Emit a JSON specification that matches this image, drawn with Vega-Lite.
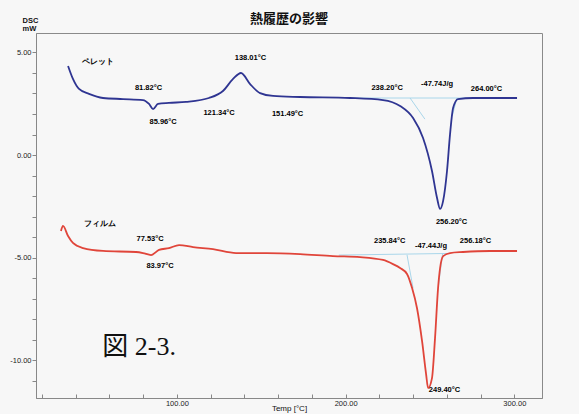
{
  "$schema": "https://vega.github.io/schema/vega-lite/v6.json",
  "width": 506,
  "height": 365,
  "autosize": "none",
  "padding": {"left": 36, "top": 33, "right": 37, "bottom": 16},
  "background": "#f7f7f7",
  "title": {"text": "熱履歴の影響", "font": "Noto Sans CJK JP", "fontSize": 13, "fontWeight": "bold", "color": "#111111", "anchor": "middle", "offset": -10},
  "config": {
    "view": {"stroke": "#8a8a8a", "strokeWidth": 1},
    "axis": {"grid": false, "domainColor": "#888888", "tickColor": "#888888", "labelColor": "#222222", "titleColor": "#111111", "labelFont": "Liberation Sans", "titleFont": "Liberation Sans", "labelFontSize": 7.5, "titleFontSize": 8, "titleFontWeight": "normal"}
  },
  "datasets": {
    "curves": [
      {"sample": "ペレット", "T": 35.5, "mW": 4.34},
      {"sample": "ペレット", "T": 38.4, "mW": 3.71},
      {"sample": "ペレット", "T": 42.0, "mW": 3.22},
      {"sample": "ペレット", "T": 47.9, "mW": 2.98},
      {"sample": "ペレット", "T": 56.2, "mW": 2.78},
      {"sample": "ペレット", "T": 68.1, "mW": 2.73},
      {"sample": "ペレット", "T": 79.9, "mW": 2.68},
      {"sample": "ペレット", "T": 83.5, "mW": 2.49},
      {"sample": "ペレット", "T": 85.9, "mW": 2.24},
      {"sample": "ペレット", "T": 88.8, "mW": 2.49},
      {"sample": "ペレット", "T": 95.3, "mW": 2.54},
      {"sample": "ペレット", "T": 105.4, "mW": 2.59},
      {"sample": "ペレット", "T": 119.0, "mW": 2.78},
      {"sample": "ペレット", "T": 127.3, "mW": 3.12},
      {"sample": "ペレット", "T": 133.3, "mW": 3.71},
      {"sample": "ペレット", "T": 138.0, "mW": 4.0},
      {"sample": "ペレット", "T": 143.4, "mW": 3.46},
      {"sample": "ペレット", "T": 149.3, "mW": 3.02},
      {"sample": "ペレット", "T": 157.0, "mW": 2.88},
      {"sample": "ペレット", "T": 173.0, "mW": 2.83},
      {"sample": "ペレット", "T": 202.6, "mW": 2.78},
      {"sample": "ペレット", "T": 222.2, "mW": 2.68},
      {"sample": "ペレット", "T": 232.3, "mW": 2.39},
      {"sample": "ペレット", "T": 240.0, "mW": 1.80},
      {"sample": "ペレット", "T": 245.9, "mW": 0.83},
      {"sample": "ペレット", "T": 251.2, "mW": -0.78},
      {"sample": "ペレット", "T": 254.2, "mW": -2.10},
      {"sample": "ペレット", "T": 256.0, "mW": -2.63},
      {"sample": "ペレット", "T": 257.8, "mW": -2.24},
      {"sample": "ペレット", "T": 260.1, "mW": -0.78},
      {"sample": "ペレット", "T": 261.9, "mW": 1.02},
      {"sample": "ペレット", "T": 263.7, "mW": 2.29},
      {"sample": "ペレット", "T": 266.6, "mW": 2.73},
      {"sample": "ペレット", "T": 275.5, "mW": 2.78},
      {"sample": "ペレット", "T": 301.6, "mW": 2.78},
      {"sample": "フィルム", "T": 31.3, "mW": -3.71},
      {"sample": "フィルム", "T": 32.5, "mW": -3.46},
      {"sample": "フィルム", "T": 35.5, "mW": -3.95},
      {"sample": "フィルム", "T": 38.4, "mW": -4.29},
      {"sample": "フィルム", "T": 44.4, "mW": -4.54},
      {"sample": "フィルム", "T": 56.2, "mW": -4.68},
      {"sample": "フィルム", "T": 75.8, "mW": -4.73},
      {"sample": "フィルム", "T": 79.9, "mW": -4.78},
      {"sample": "フィルム", "T": 84.7, "mW": -4.88},
      {"sample": "フィルム", "T": 89.4, "mW": -4.63},
      {"sample": "フィルム", "T": 95.3, "mW": -4.54},
      {"sample": "フィルム", "T": 101.3, "mW": -4.39},
      {"sample": "フィルム", "T": 109.6, "mW": -4.49},
      {"sample": "フィルム", "T": 121.4, "mW": -4.59},
      {"sample": "フィルム", "T": 135.1, "mW": -4.78},
      {"sample": "フィルム", "T": 153.4, "mW": -4.78},
      {"sample": "フィルム", "T": 173.0, "mW": -4.83},
      {"sample": "フィルム", "T": 192.5, "mW": -4.93},
      {"sample": "フィルム", "T": 208.6, "mW": -4.98},
      {"sample": "フィルム", "T": 222.2, "mW": -5.12},
      {"sample": "フィルム", "T": 228.1, "mW": -5.32},
      {"sample": "フィルム", "T": 232.3, "mW": -5.51},
      {"sample": "フィルム", "T": 236.4, "mW": -5.80},
      {"sample": "フィルム", "T": 239.4, "mW": -6.49},
      {"sample": "フィルム", "T": 242.3, "mW": -7.46},
      {"sample": "フィルム", "T": 245.3, "mW": -9.07},
      {"sample": "フィルム", "T": 247.7, "mW": -10.68},
      {"sample": "フィルム", "T": 248.9, "mW": -11.37},
      {"sample": "フィルム", "T": 251.2, "mW": -10.88},
      {"sample": "フィルム", "T": 253.0, "mW": -8.93},
      {"sample": "フィルム", "T": 254.8, "mW": -6.49},
      {"sample": "フィルム", "T": 256.0, "mW": -5.51},
      {"sample": "フィルム", "T": 257.8, "mW": -4.93},
      {"sample": "フィルム", "T": 261.9, "mW": -4.78},
      {"sample": "フィルム", "T": 269.6, "mW": -4.73},
      {"sample": "フィルム", "T": 285.6, "mW": -4.68},
      {"sample": "フィルム", "T": 301.6, "mW": -4.68}
    ],
    "base": [
      {"seg": "b1", "T": 202.6, "mW": 2.78},
      {"seg": "b1", "T": 275.5, "mW": 2.78},
      {"seg": "b2", "T": 238.2, "mW": 2.78},
      {"seg": "b2", "T": 247.0, "mW": 1.75},
      {"seg": "b3", "T": 266.0, "mW": 2.78},
      {"seg": "b3", "T": 263.2, "mW": 1.9},
      {"seg": "r1", "T": 196.0, "mW": -4.88},
      {"seg": "r1", "T": 262.0, "mW": -4.8},
      {"seg": "r2", "T": 236.4, "mW": -4.87},
      {"seg": "r2", "T": 240.0, "mW": -6.5},
      {"seg": "r3", "T": 257.5, "mW": -4.8},
      {"seg": "r3", "T": 255.0, "mW": -6.4}
    ],
    "labels": [
      {"T": 53.3, "mW": 4.54, "label": "ペレット"},
      {"T": 83.2, "mW": 3.27, "label": "81.82°C"},
      {"T": 91.8, "mW": 1.61, "label": "85.96°C"},
      {"T": 125.0, "mW": 2.05, "label": "121.34°C"},
      {"T": 143.6, "mW": 4.73, "label": "138.01°C"},
      {"T": 165.6, "mW": 2.0, "label": "151.49°C"},
      {"T": 224.6, "mW": 3.27, "label": "238.20°C"},
      {"T": 254.2, "mW": 3.46, "label": "-47.74J/g"},
      {"T": 283.5, "mW": 3.22, "label": "264.00°C"},
      {"T": 262.8, "mW": -3.27, "label": "256.20°C"},
      {"T": 54.7, "mW": -3.37, "label": "フィルム"},
      {"T": 84.1, "mW": -4.10, "label": "77.53°C"},
      {"T": 90.0, "mW": -5.41, "label": "83.97°C"},
      {"T": 226.1, "mW": -4.20, "label": "235.84°C"},
      {"T": 250.6, "mW": -4.44, "label": "-47.44J/g"},
      {"T": 277.0, "mW": -4.20, "label": "256.18°C"},
      {"T": 258.6, "mW": -11.46, "label": "249.40°C"}
    ]
  },
  "encoding": {
    "x": {
      "field": "T", "type": "quantitative",
      "scale": {"domain": [16.5, 316.4], "nice": false, "zero": false},
      "axis": {
        "values": [20, 40, 60, 80, 100, 120, 140, 160, 180, 200, 220, 240, 260, 280, 300],
        "labelExpr": "datum.value % 100 === 0 ? format(datum.value, '.2f') : ''",
        "tickSize": -4, "labelPadding": 5, "labelOverlap": false,
        "title": "Temp [°C]", "titlePadding": -2
      }
    },
    "y": {
      "field": "mW", "type": "quantitative",
      "scale": {"domain": [-11.85, 5.95], "nice": false, "zero": false},
      "axis": {
        "values": [-11, -10, -9, -8, -7, -6, -5, -4, -3, -2, -1, 0, 1, 2, 3, 4, 5],
        "labelExpr": "datum.value % 5 === 0 ? (datum.value < 0 ? '-' : '') + format(abs(datum.value), '.2f') : ''",
        "tickSize": 4, "labelPadding": 1, "labelOverlap": false,
        "title": ["DSC", "mW"], "titleAngle": 0, "titleAlign": "left", "titleBaseline": "top",
        "titleX": -14, "titleY": -17, "titleFontSize": 7.5, "titleFontWeight": "bold", "titleLineHeight": 8.5
      }
    }
  },
  "layer": [
    {
      "data": {"name": "base"},
      "mark": {"type": "line", "color": "#a9d6ea", "strokeWidth": 1},
      "encoding": {"detail": {"field": "seg", "type": "nominal"}}
    },
    {
      "data": {"name": "curves"},
      "mark": {"type": "line", "strokeWidth": 1.8, "interpolate": "monotone"},
      "encoding": {
        "color": {"field": "sample", "type": "nominal", "scale": {"domain": ["ペレット", "フィルム"], "range": ["#2f3592", "#e0453a"]}, "legend": null}
      }
    },
    {
      "data": {"name": "labels"},
      "mark": {"type": "text", "fontSize": 7.5, "font": "Liberation Sans", "color": "#000000", "fontWeight": 600},
      "encoding": {"text": {"field": "label", "type": "nominal"}}
    },
    {
      "data": {"values": [{"T": 77.6, "mW": -9.37, "label": "図 2-3."}]},
      "mark": {"type": "text", "fontSize": 26, "font": "Liberation Serif, Noto Sans CJK JP", "color": "#111111"},
      "encoding": {"text": {"field": "label", "type": "nominal"}}
    }
  ]
}
